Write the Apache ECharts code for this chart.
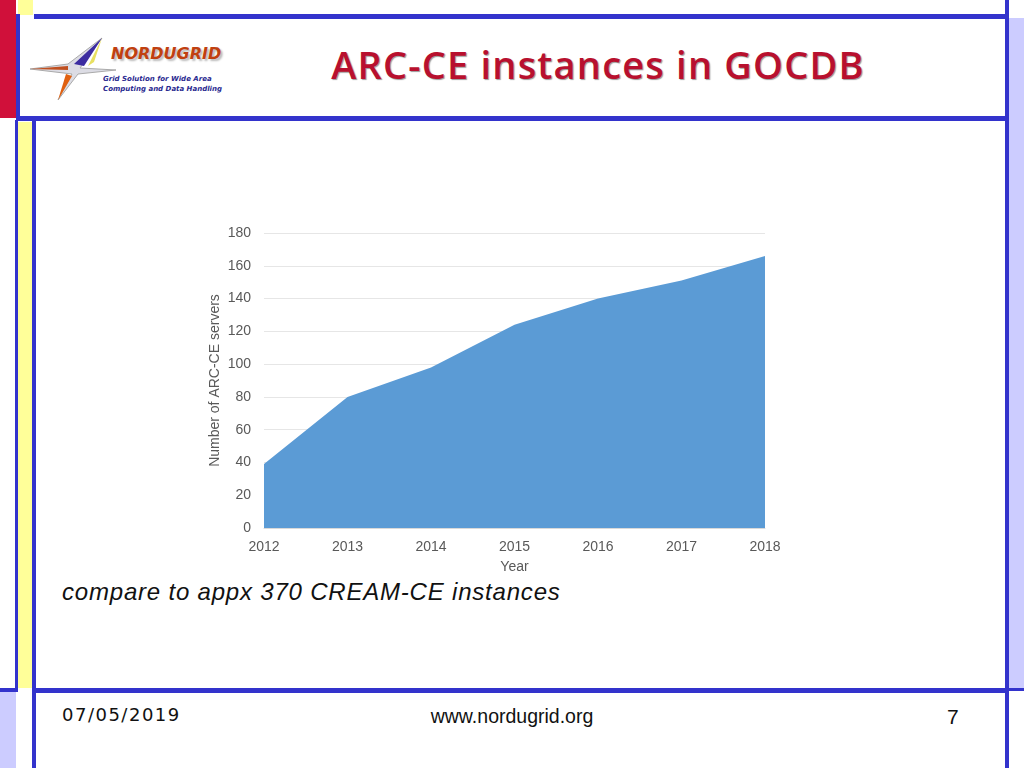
<!DOCTYPE html>
<html><head><meta charset="utf-8">
<script src="https://cdn.jsdelivr.net/npm/echarts@6/dist/echarts.min.js"></script>
<style>
body{margin:0;width:1024px;height:768px;position:relative;background:#fff;overflow:hidden;font-family:"Liberation Sans",Arial,sans-serif}
.b{position:absolute}
</style></head><body>
<div class="b" style="left:0;top:0;width:16px;height:118px;background:#d0103a"></div>
<div class="b" style="left:18px;top:0;width:15px;height:15px;background:#ffff99"></div>
<div class="b" style="left:18px;top:122px;width:15px;height:566px;background:#ffff99"></div>
<div class="b" style="left:0;top:692px;width:16px;height:76px;background:#ccccff"></div>
<div class="b" style="left:1008px;top:18px;width:16px;height:671px;background:#ccccff"></div>
<div class="b" style="left:34px;top:14px;width:975px;height:5px;background:#3333cc"></div>
<div class="b" style="left:17px;top:116px;width:989px;height:5px;background:#3333cc"></div>
<div class="b" style="left:16px;top:14px;width:4px;height:106px;background:#3333cc"></div>
<div class="b" style="left:15px;top:120px;width:3px;height:570px;background:#3333cc"></div>
<div class="b" style="left:32px;top:120px;width:4px;height:648px;background:#3333cc"></div>
<div class="b" style="left:1005px;top:0;width:4px;height:768px;background:#3333cc"></div>
<div class="b" style="left:0;top:688px;width:18px;height:4px;background:#3333cc"></div>
<div class="b" style="left:34px;top:688px;width:975px;height:5px;background:#3333cc"></div>
<div class="b" style="left:1008px;top:688px;width:16px;height:3px;background:#3333cc"></div>
<svg class="b" style="left:28px;top:36px" width="90" height="66" viewBox="0 0 90 66">
<polygon points="2,33 40,28 74,2 52,32 88,34 50,38 30,64 44,38" fill="#dcdce4" stroke="#aaa" stroke-width="1"/>
<polygon points="56,30 74,2 46,28" fill="#3c2ca0"/><polygon points="60,30 74,2 66,26" fill="#e8e060"/>
<polygon points="30,64 44,40 38,38" fill="#e06010"/><polygon points="2,33 40,30 40,34" fill="#c05020"/>
</svg>
<div class="b" style="left:111px;top:44px;font:italic bold 16px 'DejaVu Sans',sans-serif;color:#c04010;text-shadow:2px 2px 2px #bbb">NORDUGRID</div>
<div class="b" style="left:103px;top:74px;font:italic bold 7px 'DejaVu Sans',sans-serif;color:#2a2a90;line-height:10px">Grid Solution for Wide Area<br>Computing and Data Handling</div>
<div class="b" style="left:0;width:1196px;top:38px;text-align:center;font:600 38px 'Open Sans',sans-serif;letter-spacing:1.2px;color:#b8102e;text-shadow:1px 1px 1px #999">ARC-CE instances in GOCDB</div>
<div class="b" style="left:62px;top:578px;font:italic 24px 'Liberation Sans',Arial,sans-serif;letter-spacing:0.8px;color:#111">compare to appx 370 CREAM-CE instances</div>
<div class="b" style="left:62px;top:704px;font:18px 'DejaVu Sans',sans-serif;letter-spacing:1.5px;color:#111">07/05/2019</div>
<div class="b" style="left:0;width:1024px;top:705px;text-align:center;font:19.5px 'Liberation Sans',Arial,sans-serif;color:#111">www.nordugrid.org</div>
<div class="b" style="left:947px;top:705px;font:21px 'Liberation Sans',Arial,sans-serif;color:#111">7</div>
<div id="c" class="b" style="left:0;top:0;width:1024px;height:768px"></div>
<script>
const years=['2012','2013','2014','2015','2016','2017','2018'];
const servers=[39,80,98,124,140,151,166];
const ch=echarts.init(document.getElementById('c'));
const f={color:'#595959',fontSize:14,fontFamily:'Liberation Sans'};
ch.setOption({
 animation:false,
 grid:{left:264,right:259,top:233,bottom:240},
 xAxis:{type:'category',data:years,boundaryGap:false,name:'Year',nameLocation:'middle',nameGap:32,
  nameTextStyle:f,axisLine:{lineStyle:{color:'#d9d9d9'}},axisTick:{show:false},
  axisLabel:Object.assign({margin:12},f)},
 yAxis:{type:'value',min:0,max:180,interval:20,name:'Number of ARC-CE servers',nameLocation:'middle',nameGap:42,
  nameTextStyle:f,splitLine:{lineStyle:{color:'#e6e6e6'}},axisLabel:Object.assign({margin:13},f)},
 series:[{type:'line',data:servers,symbol:'none',lineStyle:{width:0},areaStyle:{color:'#5b9bd5',opacity:1}}]
});
</script>
</body></html>
